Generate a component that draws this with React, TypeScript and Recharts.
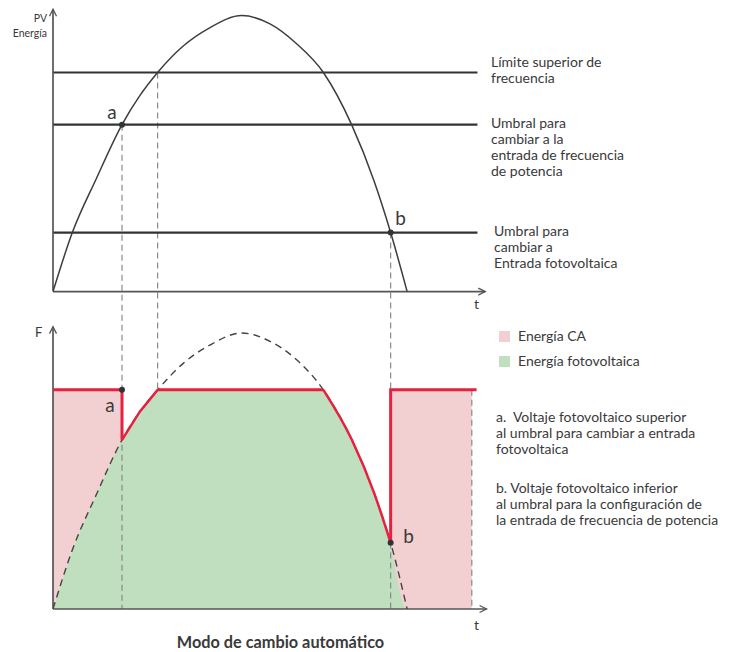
import React from 'react';
import { ComposedChart, XAxis, YAxis, Line, Area, ReferenceLine, ReferenceDot } from 'recharts';

// time samples (t axis, 0..100) and readings of the curves
const curveT = [0, 4.45, 10, 15.9, 20, 24.1, 30, 36, 43.5, 50, 56, 62.3, 68.8, 74, 77.8, 81.6];
const pvValues = [0, 21.4, 41, 60.5, 71, 79.4, 89, 95.5, 100, 97, 90, 79.4, 60.5, 40, 21.4, 0];
const freqValues = [0, 21.4, 41.5, 61.3, 71.5, 79.4, 89, 95.5, 100, 97, 90.5, 79.4, 61.5, 42, 24, 0];

// thresholds (top panel)
const thresholdValues = [79.4, 60.5, 21.4];
const thresholdLabels = [
  ['Límite superior de', 'frecuencia'],
  ['Umbral para', 'cambiar a la', 'entrada de frecuencia', 'de potencia'],
  ['Umbral para', 'cambiar a', 'Entrada fotovoltaica'],
];

// switching times
const switchTimes = [15.9, 77.8]; // a, b
const upperCrossTimes = [24.1, 62.3];
const acEndTime = 96.5;
const lineEndTime = 97.8;

const legendItems = [
  { name: 'Energía CA', color: '#f2cfd0' },
  { name: 'Energía fotovoltaica', color: '#bfdfbe' },
];
const notes = [
  ['a.  Voltaje fotovoltaico superior', 'al umbral para cambiar a entrada', 'fotovoltaica'],
  ['b. Voltaje fotovoltaico inferior', 'al umbral para la configuración de', 'la entrada de frecuencia de potencia'],
];
const title = 'Modo de cambio automático';

const PV_MIN = -115;
const PV_MAX = 102.4;
const F_MAX = 217.4;
const AXIS_TOP = 102.3;

const UPPER = thresholdValues[0];
const GRID_T = thresholdValues[1];
const PV_T = thresholdValues[2];
const [T_A, T_B] = switchTimes;
const [T_UP1, T_UP2] = upperCrossTimes;

const pvCurve = curveT.map((t, i) => ({ t, v: pvValues[i] }));
const freqCurve = curveT.map((t, i) => ({ t, v: freqValues[i] }));
const fAtA = freqValues[curveT.indexOf(T_A)];
const fAtB = freqValues[curveT.indexOf(T_B)];

const greenRise = freqCurve.filter((p) => p.t <= T_UP1);
const greenFlat = [
  { t: T_UP1 - 0.15, v: UPPER },
  { t: T_UP2 + 0.15, v: UPPER },
];
const greenFall = freqCurve.filter((p) => p.t >= T_UP2);
const pinkLeft = freqCurve.filter((p) => p.t <= T_A).map((p) => ({ t: p.t, r: [p.v, UPPER] }));
const pinkRight = [
  ...freqCurve.filter((p) => p.t >= T_B).map((p) => ({ t: p.t, r: [p.v, UPPER] })),
  { t: acEndTime, r: [0, UPPER] },
];
const redLeft = [
  { t: 0, v: UPPER },
  { t: T_A, v: UPPER },
  { t: T_A, v: fAtA },
];
const redRise = freqCurve.filter((p) => p.t >= T_A && p.t <= T_UP1);
const redFlat = [
  { t: T_UP1, v: UPPER },
  { t: T_UP2, v: UPPER },
];
const redFall = freqCurve.filter((p) => p.t >= T_UP2 && p.t <= T_B);
const redRight = [
  { t: T_B, v: fAtB },
  { t: T_B, v: UPPER },
  { t: lineEndTime - 0.2, v: UPPER },
];

const FONT = 'Lato, "Noto Sans", sans-serif';
const TEXT = '#3a3a3a';
const RED = '#e8203f';
const GREEN = '#bfdfbe';
const PINK = '#f2cfd0';

const upArrow = (p: any) => (
  <path d={`M${p.cx - 3.5},${p.cy + 7} L${p.cx},${p.cy} L${p.cx + 3.5},${p.cy + 7}`} fill="none" stroke="#555" strokeWidth={1.3} />
);
const rightArrow = (p: any) => (
  <path d={`M${p.cx - 7},${p.cy - 3.5} L${p.cx},${p.cy} L${p.cx - 7},${p.cy + 3.5}`} fill="none" stroke="#555" strokeWidth={1.3} />
);
const letterDot = (letter: string, dx: number, dy: number) => (p: any) => (
  <g>
    <circle cx={p.cx} cy={p.cy} r={3} fill="#333" />
    <text x={p.cx + dx} y={p.cy + dy} textAnchor="middle" dominantBaseline="central" fontSize={19} fontFamily={FONT} fill={TEXT}>
      {letter}
    </text>
  </g>
);

const abs = (left: number, top: number, extra: React.CSSProperties = {}): React.CSSProperties => ({
  position: 'absolute',
  left,
  top,
  fontFamily: FONT,
  color: TEXT,
  whiteSpace: 'pre',
  ...extra,
});

export default function App() {
  const dashV = { stroke: '#8a8a8a', strokeWidth: 1.2, strokeDasharray: '6 4', ifOverflow: 'visible' as const };
  const axisStyle = { stroke: '#555', strokeWidth: 1.7, ifOverflow: 'visible' as const };
  const areaCommon = { yAxisId: 'f', fillOpacity: 1, stroke: 'none', isAnimationActive: false };
  const redCommon = { yAxisId: 'f', dataKey: 'v', stroke: RED, dot: false, activeDot: false, isAnimationActive: false };
  return (
    <div style={{ position: 'absolute', left: 0, top: 0, width: 730, height: 652, background: '#fff' }}>
      <ComposedChart width={730} height={652} margin={{ top: 9, right: 243, bottom: 43, left: 53 }}>
        <XAxis type="number" dataKey="t" domain={[0, 100]} hide allowDataOverflow />
        <YAxis yAxisId="pv" type="number" domain={[PV_MIN, PV_MAX]} hide allowDataOverflow />
        <YAxis yAxisId="f" type="number" domain={[0, F_MAX]} hide allowDataOverflow />

        {/* bottom panel fills */}
        <Area {...areaCommon} data={greenRise} dataKey="v" type="monotone" fill={GREEN} />
        <Area {...areaCommon} data={greenFlat} dataKey="v" type="linear" fill={GREEN} />
        <Area {...areaCommon} data={greenFall} dataKey="v" type="monotone" fill={GREEN} />
        <Area {...areaCommon} data={pinkLeft} dataKey="r" type="monotone" fill={PINK} />
        <Area {...areaCommon} data={pinkRight} dataKey="r" type="monotone" fill={PINK} />

        {/* dashed connectors */}
        <ReferenceLine yAxisId="pv" segment={[{ x: T_A, y: GRID_T }, { x: T_A, y: PV_MIN }]} {...dashV} />
        <ReferenceLine yAxisId="pv" segment={[{ x: T_UP1, y: UPPER }, { x: T_UP1, y: UPPER + PV_MIN }]} {...dashV} />
        <ReferenceLine yAxisId="pv" segment={[{ x: T_B, y: PV_T }, { x: T_B, y: PV_MIN }]} {...dashV} />
        <ReferenceLine yAxisId="f" segment={[{ x: acEndTime, y: UPPER }, { x: acEndTime, y: 0 }]} {...dashV} />

        {/* threshold lines */}
        {thresholdValues.map((v) => (
          <ReferenceLine key={v} yAxisId="pv" segment={[{ x: 0, y: v }, { x: lineEndTime, y: v }]} stroke="#333" strokeWidth={2.2} ifOverflow="visible" />
        ))}

        {/* axes */}
        <ReferenceLine yAxisId="pv" segment={[{ x: 0, y: 0 }, { x: 0, y: AXIS_TOP }]} {...axisStyle} />
        <ReferenceLine yAxisId="pv" segment={[{ x: 0, y: 0 }, { x: 99.6, y: 0 }]} {...axisStyle} />
        <ReferenceLine yAxisId="f" segment={[{ x: 0, y: 0 }, { x: 0, y: AXIS_TOP }]} {...axisStyle} />
        <ReferenceLine yAxisId="f" segment={[{ x: 0, y: 0 }, { x: 99.9, y: 0 }]} {...axisStyle} />
        <ReferenceDot yAxisId="pv" x={0} y={AXIS_TOP} shape={upArrow} />
        <ReferenceDot yAxisId="pv" x={99.6} y={0} shape={rightArrow} />
        <ReferenceDot yAxisId="f" x={0} y={AXIS_TOP} shape={upArrow} />
        <ReferenceDot yAxisId="f" x={99.9} y={0} shape={rightArrow} />

        {/* curves */}
        <Line yAxisId="pv" data={pvCurve} dataKey="v" type="monotone" stroke="#3d3d3d" strokeWidth={1.5} dot={false} activeDot={false} isAnimationActive={false} />
        <Line yAxisId="f" data={freqCurve} dataKey="v" type="monotone" stroke="#444" strokeWidth={1.4} strokeDasharray="7 5" dot={false} activeDot={false} isAnimationActive={false} />

        {/* red frequency path */}
        <Line {...redCommon} data={redLeft} type="linear" strokeWidth={3} />
        <Line {...redCommon} data={redRise} type="linear" strokeWidth={2.5} />
        <Line {...redCommon} data={redFlat} type="linear" strokeWidth={3} />
        <Line {...redCommon} data={redFall} type="monotone" strokeWidth={2.5} />
        <Line {...redCommon} data={redRight} type="linear" strokeWidth={3} />

        {/* switching points */}
        <ReferenceDot yAxisId="pv" x={T_A} y={GRID_T} shape={letterDot('a', -10, -13)} />
        <ReferenceDot yAxisId="pv" x={T_B} y={PV_T} shape={letterDot('b', 10, -15)} />
        <ReferenceDot yAxisId="f" x={T_A} y={UPPER} shape={letterDot('a', -12, 15)} />
        <ReferenceDot yAxisId="f" x={T_B} y={fAtB} shape={letterDot('b', 18, -7)} />
      </ComposedChart>

      {/* axis titles */}
      <div style={abs(0, 11, { width: 47, textAlign: 'right', fontSize: 10.5, lineHeight: '15px' })}>{'PV\nEnergía'}</div>
      <div style={abs(35, 324, { fontSize: 13, lineHeight: '17px' })}>F</div>
      <div style={abs(474, 295, { fontSize: 14, lineHeight: '18px' })}>t</div>
      <div style={abs(474, 616, { fontSize: 14, lineHeight: '18px' })}>t</div>

      {/* threshold labels */}
      {thresholdLabels.map((lines, i) => (
        <div key={i} style={abs(i === 2 ? 494 : 491, [53.7, 115.3, 222.7][i], { fontSize: 14, lineHeight: '16px' })}>
          {lines.join('\n')}
        </div>
      ))}

      {/* legend */}
      {legendItems.map((it, i) => (
        <div key={it.name} style={abs(499, 328 + i * 25, { display: 'flex', alignItems: 'center', fontSize: 14, lineHeight: '16px' })}>
          <span style={{ display: 'inline-block', width: 11, height: 11, background: it.color, marginRight: 8 }} />
          <span>{it.name}</span>
        </div>
      ))}

      {/* notes */}
      {notes.map((lines, i) => (
        <div key={i} style={abs(496, [409.3, 480.3][i], { fontSize: 14, lineHeight: '16px' })}>
          {lines.join('\n')}
        </div>
      ))}

      <div style={abs(130, 632, { width: 301, textAlign: 'center', fontSize: 16.3, fontWeight: 700, lineHeight: '20px' })}>{title}</div>
    </div>
  );
}
